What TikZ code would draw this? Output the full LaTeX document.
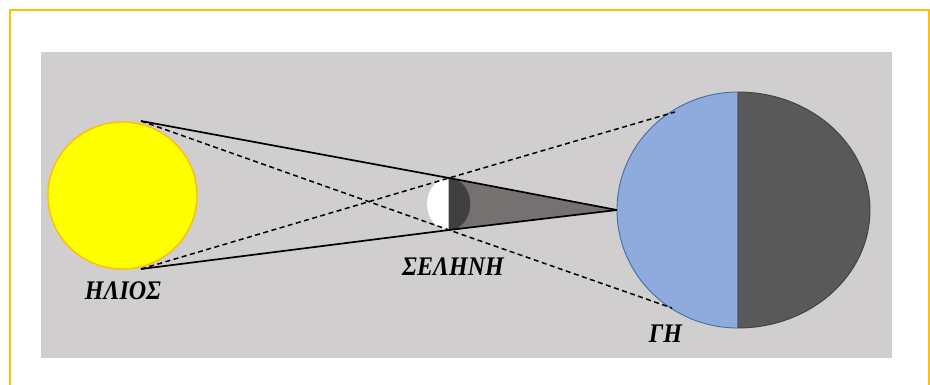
\documentclass[tikz,border=0pt]{standalone}
\usepackage{fontspec}
\setmainfont{Liberation Serif}
\definecolor{frameyellow}{HTML}{FFC000}
\definecolor{panelgray}{HTML}{D0CECE}
\definecolor{sunfill}{HTML}{FFFF00}
\definecolor{earthblue}{HTML}{8FAADC}
\definecolor{earthedge}{HTML}{41719C}
\definecolor{nightgray}{HTML}{595959}
\definecolor{moondark}{HTML}{404040}
\definecolor{umbragray}{HTML}{767171}
\begin{document}
\begin{tikzpicture}[x=1pt,y=-1pt,
  frameline/.style={draw=frameyellow,line width=2pt},
  ray/.style={draw=black,line width=1.7pt},
  dashray/.style={draw=black,line width=1.5pt,dash pattern=on 5pt off 3.5pt},
  label/.style={anchor=base,inner sep=0pt,yscale=1.12,font=\fontsize{24}{24}\selectfont\bfseries\itshape}]
\useasboundingbox (0,0) rectangle (930,385);
\fill[white] (0,0) rectangle (930,385);
% outer frame (open at the bottom)
\draw[frameline] (10,392) -- (10,10) -- (929,10) -- (929,392);
% grey panel
\fill[panelgray] (41,52) rectangle (892,358);

% key points
\coordinate (sunT) at (141,121);
\coordinate (sunB) at (141,269);
\coordinate (moonT) at (449,178);
\coordinate (moonB) at (449,230);
\coordinate (apex) at (617,210);
\coordinate (earthT) at (675,112);
\coordinate (earthB) at (672,308);

% sun
\filldraw[fill=sunfill,draw=frameyellow,line width=1.4pt] (122.5,195.5) ellipse[x radius=74.5,y radius=73.5];

% earth: day half and night half
\filldraw[fill=earthblue,draw=earthedge,line width=0.9pt]
  (738,92) arc[start angle=270,end angle=90,x radius=121,y radius=118] -- cycle;
\filldraw[fill=nightgray,draw=moondark,line width=0.9pt]
  (738,92) arc[start angle=-90,end angle=90,x radius=132,y radius=118] -- cycle;

% umbra cone
\fill[umbragray] (moonT) -- (apex) -- (moonB) -- cycle;

% moon: lit half and dark half
\fill[white] (moonT) arc[start angle=270,end angle=90,x radius=22,y radius=26] -- cycle;
\filldraw[fill=moondark,draw=umbragray!60!black,line width=0.6pt]
  (moonT) arc[start angle=-90,end angle=90,x radius=21,y radius=26] -- cycle;

% rays
\draw[ray] (sunT) -- (moonT) -- (apex);
\draw[ray] (sunB) -- (moonB) -- (apex);
\draw[dashray] (sunT) -- (moonB) -- (earthB);
\draw[dashray] (sunB) -- (moonT) -- (earthT);

% labels
\node[label] (sunlabel) at (123,299) {ΗΛΙΟΣ};
\node[label] (moonlabel) at (453,276) {ΣΕΛΗΝΗ};
\node[label] (earthlabel) at (665.5,342) {ΓΗ};
\end{tikzpicture}
\end{document}
